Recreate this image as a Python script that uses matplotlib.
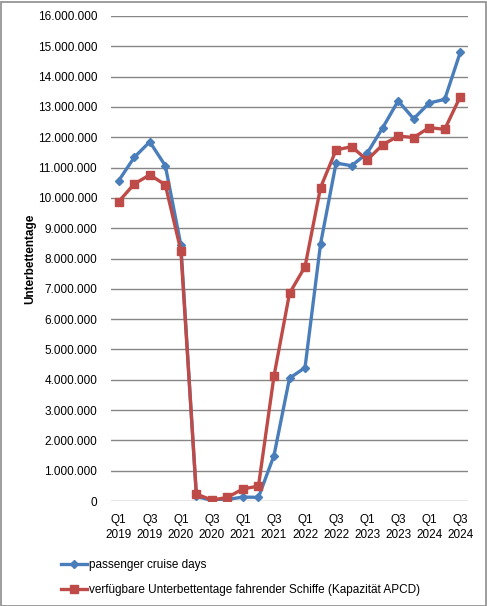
import matplotlib
matplotlib.use("Agg")
import matplotlib.pyplot as plt
from matplotlib.ticker import FuncFormatter, MultipleLocator
from matplotlib.patches import Rectangle

quarters = ["Q1\n2019", "Q2\n2019", "Q3\n2019", "Q4\n2019",
            "Q1\n2020", "Q2\n2020", "Q3\n2020", "Q4\n2020",
            "Q1\n2021", "Q2\n2021", "Q3\n2021", "Q4\n2021",
            "Q1\n2022", "Q2\n2022", "Q3\n2022", "Q4\n2022",
            "Q1\n2023", "Q2\n2023", "Q3\n2023", "Q4\n2023",
            "Q1\n2024", "Q2\n2024", "Q3\n2024"]

passenger_cruise_days = [10.57, 11.34, 11.85, 11.06, 8.45, 0.15, 0.02, 0.05,
                         0.13, 0.12, 1.50, 4.05, 4.40, 8.48, 11.15, 11.06,
                         11.47, 12.31, 13.20, 12.61, 13.13, 13.25, 14.80]
apcd = [9.88, 10.46, 10.76, 10.43, 8.26, 0.23, 0.03, 0.12,
        0.40, 0.49, 4.12, 6.85, 7.73, 10.34, 11.58, 11.69,
        11.25, 11.75, 12.04, 11.99, 12.32, 12.26, 13.34]
passenger_cruise_days = [v * 1e6 for v in passenger_cruise_days]
apcd = [v * 1e6 for v in apcd]

label_blue = "passenger cruise days"
label_red = "verfügbare Unterbettentage fahrender Schiffe (Kapazität APCD)"
y_label = "Unterbettentage"

plt.rcParams['font.family'] = ['Liberation Sans', 'DejaVu Sans']

W, H = 487, 606
fig = plt.figure(figsize=(W / 100, H / 100), dpi=100)
fig.patches.append(Rectangle((0.5 / W, 0.5 / H), 1 - 2 / W, 1 - 2 / H,
                             transform=fig.transFigure, fill=False,
                             edgecolor="#8c8c8c", linewidth=1.2))

left, right, top, bottom = 111, 468, 16, 501
ax = fig.add_axes([left / W, 1 - bottom / H, (right - left) / W, (bottom - top) / H])

x = list(range(len(quarters)))
ax.plot(x, passenger_cruise_days, color="#4A7EBB", linewidth=2.4, marker="D",
        markersize=4.5, label=label_blue, zorder=3)
ax.plot(x, apcd, color="#BE4B48", linewidth=2.4, marker="s",
        markersize=6, label=label_red, zorder=4)

ax.set_xlim(-0.5, len(quarters) - 0.5)
ax.set_ylim(0, 16e6)
ax.yaxis.set_major_locator(MultipleLocator(1e6))
ax.yaxis.set_major_formatter(FuncFormatter(lambda v, p: f"{int(round(v)):,}".replace(",", ".")))
ax.grid(axis="y", color="#868686", linewidth=1.0)
ax.set_axisbelow(True)
for s in ax.spines.values():
    s.set_visible(False)
ax.set_xticks(x[::2])
ax.set_xticklabels(quarters[::2], linespacing=1.35)
ax.tick_params(axis="both", length=0, labelsize=8.5, colors="black")
ax.tick_params(axis="y", pad=10)
ax.tick_params(axis="x", pad=9)
ax.set_ylabel(y_label, fontsize=8.5, fontweight="bold", labelpad=1)

fig.legend(loc="upper left", bbox_to_anchor=(56 / W, 1 - 554 / H), frameon=False,
           fontsize=8.5, handlelength=2.2, handletextpad=0.2, labelspacing=1.1,
           borderaxespad=0)

fig.savefig("out.png", dpi=100)
